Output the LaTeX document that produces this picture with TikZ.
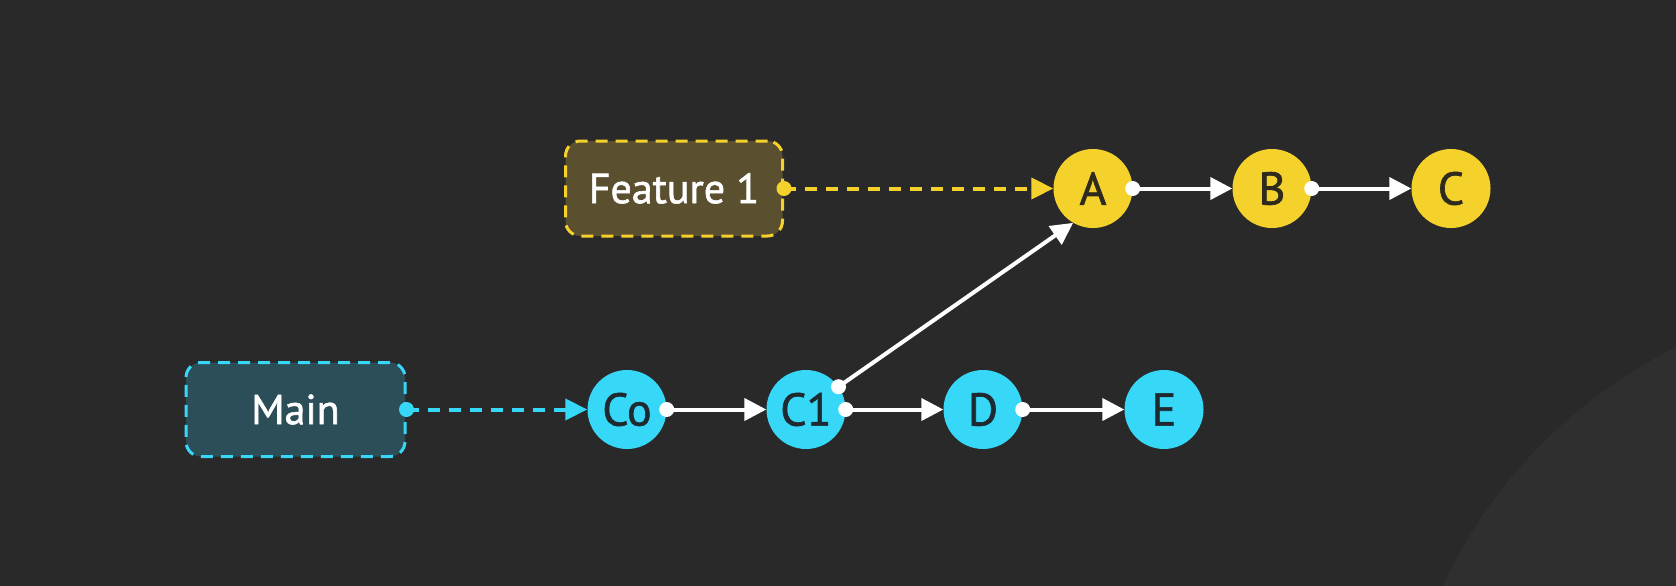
\documentclass[tikz,border=0pt]{standalone}
\usepackage{fontspec}
\setmainfont{PT Sans}
\newfontfamily\medfont{PT Sans}[FakeBold=1.4]
\usetikzlibrary{arrows.meta}
\definecolor{bg}{HTML}{292929}
\definecolor{bgtwo}{HTML}{2F2F2F}
\definecolor{yel}{HTML}{F4D12B}
\definecolor{cya}{HTML}{36D7F7}
\definecolor{featfill}{HTML}{5A502F}
\definecolor{mainfill}{HTML}{2C4E58}
\definecolor{darktext}{HTML}{1E2A30}
\definecolor{darkyel}{HTML}{2E2A1E}
\tikzset{
  branchbox/.style={rounded corners=15pt, minimum width=217pt, minimum height=95pt, inner sep=0pt,
    line width=3pt, dash pattern=on 12pt off 8pt, text=white, font=\medfont\fontsize{42}{44}\selectfont},
  commit/.style={circle, minimum size=79pt, inner sep=0pt, draw=none, font=\medfont\fontsize{46}{48}\selectfont},
  ycommit/.style={commit, fill=yel, text=darkyel},
  ccommit/.style={commit, fill=cya, text=darktext},
  dashedarrow/.style={line width=4pt, dash pattern=on 12pt off 9pt, -{Triangle[length=22pt,width=21pt]}},
  solidarrow/.style={line width=4pt, white, -{Triangle[length=22pt,width=22pt]}},
  dotmark/.style={radius=7.5pt}
}
\begin{document}
\begin{tikzpicture}[x=1pt,y=1pt]
\fill[bg] (0,0) rectangle (1676,-586);
\useasboundingbox (0,0) rectangle (1676,-586);
\begin{scope}
  \clip (0,0) rectangle (1676,-586);
  \fill[bgtwo] (1900,-800) circle[radius=505];
\end{scope}
% branch boxes
\node[branchbox, fill=featfill, draw=yel] (f1) at (674,-188.5) {Feature 1};
\node[branchbox, fill=mainfill, draw=cya, minimum width=219pt, minimum height=94pt] (main) at (295.5,-409.5) {Main};
% commits
\node[ycommit] (A) at (1093,-188.5) {A};
\node[ycommit] (B) at (1272,-188.5) {B};
\node[ycommit] (C) at (1451,-188.5) {C};
\node[ccommit] (C0) at (627,-409.5) {Co};
\node[ccommit] (C1) at (806,-409.5) {C1};
\node[ccommit] (D) at (983,-409.5) {D};
\node[ccommit] (E) at (1164,-409.5) {E};
% branch pointers
\draw[dashedarrow, yel] (f1.east) -- (A.west);
\fill[yel] (f1.east) circle[dotmark];
\draw[dashedarrow, cya] (main.east) -- (C0.west);
\fill[cya] (main.east) circle[dotmark];
% commit links
\draw[solidarrow] (A.east) -- (B.west);
\fill[white] (A.east) circle[dotmark];
\draw[solidarrow] (B.east) -- (C.west);
\fill[white] (B.east) circle[dotmark];
\draw[solidarrow] (C0.east) -- (C1.west);
\fill[white] (C0.east) circle[dotmark];
\draw[solidarrow] (C1.east) -- (D.west);
\fill[white] (C1.east) circle[dotmark];
\draw[solidarrow] (D.east) -- (E.west);
\fill[white] (D.east) circle[dotmark];
\draw[solidarrow] (C1.35) -- (A.240);
\fill[white] (C1.35) circle[dotmark];
\end{tikzpicture}
\end{document}
